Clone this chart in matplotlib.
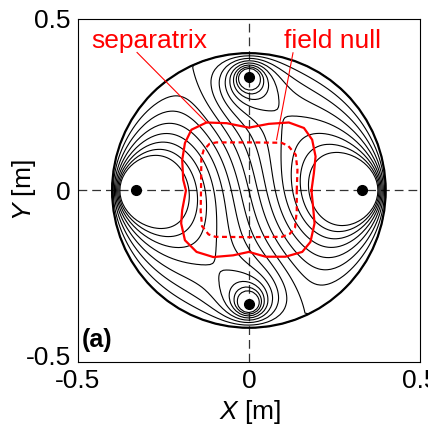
import numpy as np
import matplotlib
matplotlib.use('Agg')
import matplotlib.pyplot as plt
from matplotlib.transforms import ScaledTranslation

plt.rcParams['font.family'] = ['Liberation Sans', 'DejaVu Sans']
plt.rcParams['mathtext.fontset'] = 'custom'
plt.rcParams['mathtext.rm'] = 'Liberation Sans'
plt.rcParams['mathtext.it'] = 'Liberation Sans:italic'

# wall radius and the four antenna conductors (top, bottom, left, right)
R_WALL = 0.4
cond_x = [0.0, 0.0, -0.33, 0.33]
cond_y = [0.33, -0.33, 0.0, 0.0]
cond_i = [-0.5, 0.5, 1.0, -1.0]     # relative currents
PLASMA_B = 2.0                      # extra field carried by the plasma column
N_SIDE = 7                          # flux levels on each side of zero
LINE_GAP = 0.025                    # distance between flux lines at the centre [m]

# separatrix (solid red) and field-null boundary (dashed red)
sep_x = [0.183, 0.190, 0.195, 0.185, 0.161, 0.117, 0.058, 0.0, -0.065, -0.124,
         -0.168, -0.187, -0.195, -0.192, -0.184, -0.195, -0.198, -0.187, -0.153,
         -0.104, -0.046, 0.0, 0.049, 0.107, 0.156, 0.180, 0.192, 0.188, 0.183]
sep_y = [0.0, 0.050, 0.099, 0.148, 0.182, 0.198, 0.194, 0.183, 0.196, 0.198,
         0.177, 0.138, 0.089, 0.031, 0.0, -0.057, -0.096, -0.145, -0.179,
         -0.194, -0.189, -0.179, -0.193, -0.193, -0.179, -0.150, -0.096, -0.050, 0.0]
null_x = [0.140, 0.142, 0.137, 0.115, 0.095, 0.0, -0.095, -0.115, -0.132, -0.139,
          -0.140, -0.141, -0.137, -0.118, -0.098, 0.0, 0.097, 0.120, 0.135, 0.140, 0.140]
null_y = [0.0, 0.060, 0.104, 0.130, 0.139, 0.140, 0.140, 0.136, 0.118, 0.095,
          0.0, -0.060, -0.104, -0.128, -0.135, -0.136, -0.135, -0.126, -0.108, -0.060, 0.0]

RED = '#ff0000'


def flux(x, y):
    # line currents inside a conducting wall (with image currents)
    # plus the plasma contribution, zero on the wall
    x = np.asarray(x, float)
    y = np.asarray(y, float)
    p = np.zeros_like(x)
    for x0, y0, cur in zip(cond_x, cond_y, cond_i):
        a = np.hypot(x0, y0)
        xi, yi = x0 * R_WALL**2 / a**2, y0 * R_WALL**2 / a**2
        d1 = np.hypot(x - x0, y - y0)
        d2 = np.hypot(x - xi, y - yi)
        p = p + cur * np.log(d1 * R_WALL / (d2 * a))
    return p + PLASMA_B * x * (1 - (x**2 + y**2) / R_WALL**2)


r = np.linspace(0, R_WALL, 60)
th = np.linspace(0, 2 * np.pi, 181)
rr, tt = np.meshgrid(r, th)
X, Y = rr * np.cos(tt), rr * np.sin(tt)
P = flux(X, Y)

# level spacing from the field strength at the centre
e = 1e-4
gx = (flux(e, 0.0) - flux(-e, 0.0)) / (2 * e)
gy = (flux(0.0, e) - flux(0.0, -e)) / (2 * e)
dpsi = np.hypot(gx, gy) * LINE_GAP
levels = dpsi * np.arange(-N_SIDE, N_SIDE + 1)

fig = plt.figure(figsize=(4.28, 4.28), dpi=100)
ax = fig.add_axes([0.182, 0.154, 0.799, 0.802])

ax.axhline(0, color='#333333', lw=0.9, ls=(0, (7, 4)), zorder=1)
ax.axvline(0, color='#333333', lw=0.9, ls=(0, (7, 4)), zorder=1)
ax.contour(X, Y, P, levels=levels, colors='k', linewidths=0.8,
           linestyles='solid', zorder=2)
ax.add_patch(plt.Circle((0, 0), R_WALL, fill=False, color='k', lw=1.6, zorder=3))
ax.plot(cond_x, cond_y, 'o', color='k', ms=7, zorder=4)

ax.plot(sep_x, sep_y, color=RED, lw=1.6, zorder=5)
ax.plot(null_x, null_y, color=RED, lw=1.6, ls=(0, (2.2, 1.6)), zorder=5)

ax.plot([-0.327, -0.123], [0.402, 0.197], color=RED, lw=0.8, zorder=5)
ax.plot([0.129, 0.081], [0.401, 0.148], color=RED, lw=0.8, zorder=5)
ax.text(-0.462, 0.416, 'separatrix', color=RED, fontsize=19, va='baseline')
ax.text(0.103, 0.416, 'field null', color=RED, fontsize=19, va='baseline')
ax.text(-0.488, -0.437, '(a)', fontsize=18, fontweight='bold', va='center')

ax.set_xlim(-0.5, 0.5)
ax.set_ylim(-0.5, 0.5)
ax.set_xticks([-0.5, 0, 0.5])
ax.set_yticks([-0.5, 0, 0.5])
ax.set_xticklabels(['-0.5', '0', '0.5'])
ax.set_yticklabels(['-0.5', '0', '0.5'], va='center_baseline')
ax.tick_params(length=0, labelsize=19, pad=5)
# lift the lowest y label a little, as in the original
lab = ax.get_yticklabels()[0]
lab.set_transform(lab.get_transform() + ScaledTranslation(0, 5 / 72, fig.dpi_scale_trans))
ax.set_xlabel('$X$ [m]', fontsize=19)
ax.set_ylabel('$Y$ [m]', fontsize=19)
ax.xaxis.set_label_coords(0.505, -0.105)
ax.yaxis.set_label_coords(-0.118, 0.5)

fig.savefig('out.png', dpi=100)
